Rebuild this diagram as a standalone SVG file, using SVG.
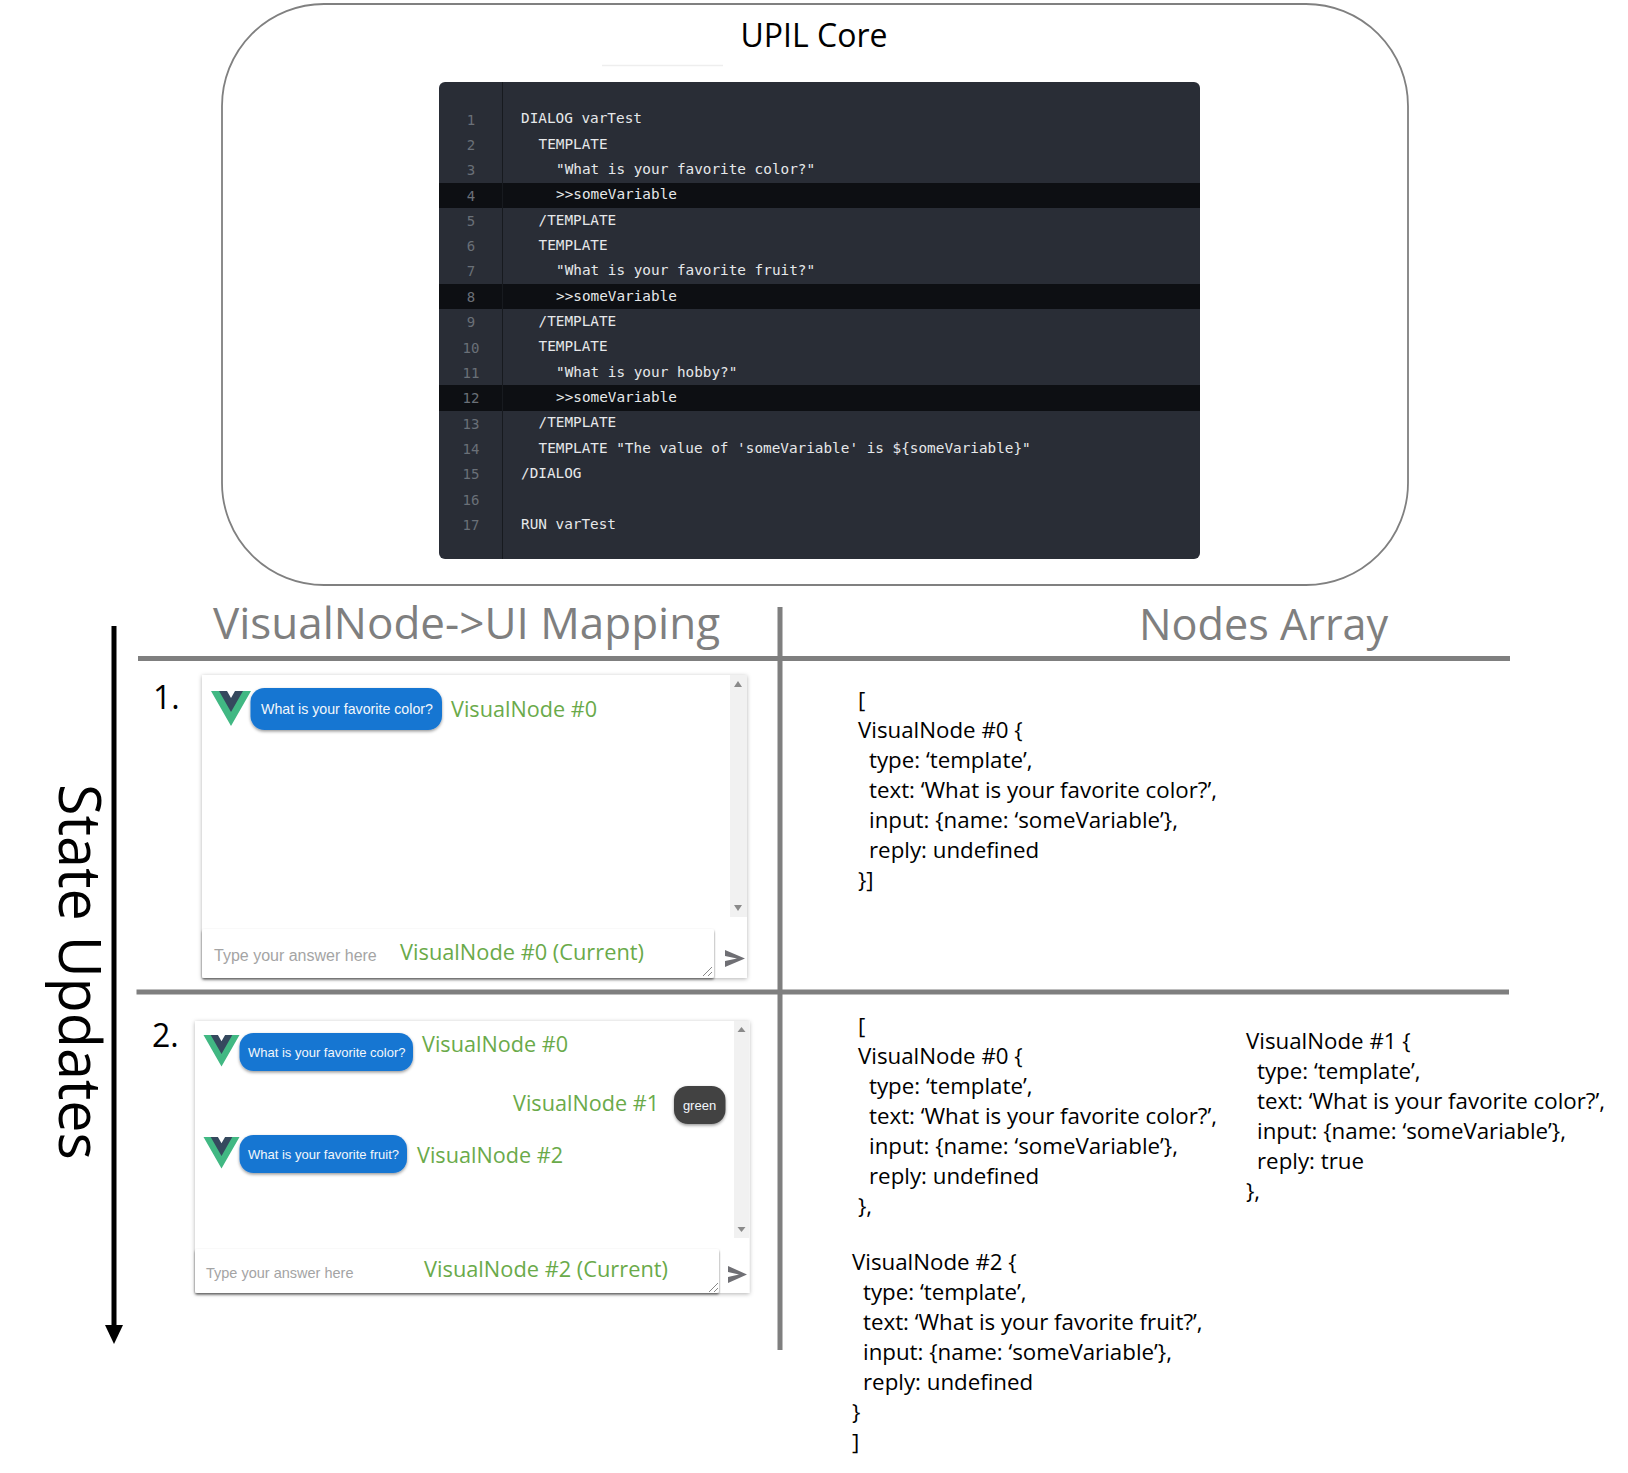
<svg xmlns="http://www.w3.org/2000/svg" width="1628" height="1473" viewBox="0 0 1628 1473">
<style>
text{font-family:"Open Sans","Noto Sans","DejaVu Sans",sans-serif}
.c{font-family:"DejaVu Sans Mono","Liberation Mono",monospace;font-size:14.35px;fill:#e6e8ea}
.n{font-family:"DejaVu Sans Mono","Liberation Mono",monospace;font-size:14px;fill:#6a7078;text-anchor:middle}
.hl{fill:#0d0f13}
.h{font-size:44px;fill:#7f7f7f}
.b{font-size:22.3px;fill:#000}
.g{font-size:22px;fill:#6aaa4a}
.ui{font-family:"Liberation Sans",Arial,sans-serif}
.bt{font-size:14.2px;fill:#f2f6fb}
.bs{font-size:13px;fill:#f2f6fb}
.ph{font-size:16px;fill:#a4a4a4}
.rule{stroke:#7f7f7f;stroke-width:5;fill:none}
.card{fill:#fff;filter:url(#s)}
.in{fill:#fff;filter:url(#s2)}
.bub{fill:#1976d2;filter:url(#s3)}
.sb{fill:#f1f1f1}
.ar{fill:#8a8a8a}
.send{fill:#6f6f74}
.gr{stroke:#888;stroke-width:1;fill:none}
</style>
<defs>
<filter id="s" x="-5%" y="-5%" width="110%" height="110%"><feDropShadow dx="0" dy="1" stdDeviation="2" flood-color="#000" flood-opacity=".3"/></filter>
<filter id="s2" x="-5%" y="-10%" width="110%" height="125%"><feDropShadow dx="0" dy="1.500" stdDeviation="1.200" flood-color="#000" flood-opacity=".55"/></filter>
<filter id="s3" x="-5%" y="-10%" width="110%" height="130%"><feDropShadow dx="0" dy="1.500" stdDeviation="1.500" flood-color="#000" flood-opacity=".4"/></filter>
<g id="vue"><path d="M0 0H9L20 19 31 0H40L20 35Z" fill="#41b883"/><path d="M8 0H16L20 7 24 0H32L20 21Z" fill="#35495e"/></g>
</defs>
<rect width="1628" height="1473" fill="#fff"/>
<g id="core">
<rect x="222" y="4" width="1186" height="581" rx="102" ry="102" fill="#fff" stroke="#808080" stroke-width="1.800"/>
<text x="814" y="47" font-size="32" text-anchor="middle" fill="#000">UPIL Core</text>
<line x1="602" y1="65.500" x2="723" y2="65.500" stroke="#eee" stroke-width="1.500"/>
</g>
<g id="code">
<rect x="439" y="82" width="761" height="477" rx="6" fill="#292d36"/>
<rect class="hl" x="439" y="183" width="761" height="25"/>
<rect class="hl" x="439" y="284" width="761" height="25"/>
<rect class="hl" x="439" y="385" width="761" height="26"/>
<line x1="502.500" y1="82" x2="502.500" y2="559" stroke="#171a1f" stroke-width="1"/>
<text class="n" x="471" y="124.500">1</text><text class="n" x="471" y="150">2</text><text class="n" x="471" y="175">3</text><text class="n" x="471" y="200.500">4</text><text class="n" x="471" y="226">5</text><text class="n" x="471" y="251">6</text><text class="n" x="471" y="276">7</text><text class="n" x="471" y="302">8</text><text class="n" x="471" y="327">9</text><text class="n" x="471" y="352.500">10</text><text class="n" x="471" y="378">11</text><text class="n" x="471" y="403">12</text><text class="n" x="471" y="428.500">13</text><text class="n" x="471" y="454">14</text><text class="n" x="471" y="479">15</text><text class="n" x="471" y="504.500">16</text><text class="n" x="471" y="530">17</text>
<text class="c" x="521" y="123">DIALOG varTest</text>
<text class="c" x="538.500" y="149">TEMPLATE</text>
<text class="c" x="556" y="174">"What is your favorite color?"</text>
<text class="c" x="556" y="199">&gt;&gt;someVariable</text>
<text class="c" x="538.500" y="225">/TEMPLATE</text>
<text class="c" x="538.500" y="250">TEMPLATE</text>
<text class="c" x="556" y="275">"What is your favorite fruit?"</text>
<text class="c" x="556" y="301">&gt;&gt;someVariable</text>
<text class="c" x="538.500" y="326">/TEMPLATE</text>
<text class="c" x="538.500" y="351">TEMPLATE</text>
<text class="c" x="556" y="377">"What is your hobby?"</text>
<text class="c" x="556" y="402">&gt;&gt;someVariable</text>
<text class="c" x="538.500" y="427">/TEMPLATE</text>
<text class="c" x="538.500" y="453">TEMPLATE "The value of 'someVariable' is ${someVariable}"</text>
<text class="c" x="521" y="478">/DIALOG</text>
<text class="c" x="521" y="529">RUN varTest</text>
</g>
<g id="headers">
<text class="h" x="213" y="639">VisualNode-&gt;UI Mapping</text>
<text class="h" x="1139" y="640" style="font-size:43.200px">Nodes Array</text>
</g>
<g id="connectors">
<line class="rule" x1="780" y1="607" x2="780" y2="1350"/>
<line class="rule" x1="138" y1="658.500" x2="1510" y2="658.500"/>
<line class="rule" x1="136.500" y1="992" x2="1509" y2="992"/>
<line x1="114" y1="626" x2="114" y2="1328" stroke="#000" stroke-width="5"/>
<path d="M105 1325H123L114 1344Z" fill="#000"/>
</g>
<text id="state-updates" transform="translate(59,784) rotate(90)" font-size="58" fill="#000" textLength="376" lengthAdjust="spacingAndGlyphs">State Updates</text>
<g id="state1">
<text x="153" y="709" font-size="32" fill="#000">1.</text>
<rect class="card" x="202" y="675" width="545" height="303"/>
<rect class="sb" x="730" y="675" width="17" height="242"/>
<path class="ar" d="M738 681l4 6h-8z"/><path class="ar" d="M738 911l4-6h-8z"/>
<rect class="in" x="202" y="929" width="512" height="49" rx="2"/>
<path class="gr" d="M703 976l9-9M708 976l4-4"/>
<use href="#vue" x="211" y="691"/>
<rect class="bub" x="250.500" y="688" width="191.500" height="42" rx="14"/>
<text class="ui bt" x="261" y="714">What is your favorite color?</text>
<text class="g" x="451" y="717" textLength="146" lengthAdjust="spacingAndGlyphs">VisualNode #0</text>
<text class="ui ph" x="214" y="961">Type your answer here</text>
<text class="g" x="400" y="960" textLength="244" lengthAdjust="spacingAndGlyphs">VisualNode #0 (Current)</text>
<path class="send" d="M725 950l20 8.500-20 8.500 0-6 12-2.500-12-2.500z"/>
</g>
<g id="state2">
<text x="152" y="1047" font-size="32" fill="#000">2.</text>
<rect class="card" x="195" y="1021" width="554.500" height="272"/>
<rect class="sb" x="734" y="1021" width="15.500" height="217"/>
<path class="ar" d="M741.500 1027l4 5h-8z"/><path class="ar" d="M741.500 1232l4-5h-8z"/>
<rect class="in" x="195" y="1249" width="524" height="44" rx="2"/>
<path class="gr" d="M709 1292l9-9M714 1292l4-4"/>
<use href="#vue" transform="translate(203.500,1035) scale(.9)"/>
<rect class="bub" x="239.500" y="1033" width="173.500" height="38" rx="14"/>
<text class="ui bs" x="248" y="1057">What is your favorite color?</text>
<text class="g" x="422" y="1052" textLength="146" lengthAdjust="spacingAndGlyphs">VisualNode #0</text>
<text class="g" x="513" y="1111" textLength="146" lengthAdjust="spacingAndGlyphs">VisualNode #1</text>
<rect x="674" y="1086" width="51.500" height="38" rx="14" fill="#424242" filter="url(#s3)"/>
<text class="ui bs" x="699.500" y="1110" text-anchor="middle">green</text>
<use href="#vue" transform="translate(203.500,1137) scale(.9)"/>
<rect class="bub" x="239.500" y="1135" width="167.500" height="38" rx="14"/>
<text class="ui bs" x="248" y="1159">What is your favorite fruit?</text>
<text class="g" x="417" y="1163" textLength="146" lengthAdjust="spacingAndGlyphs">VisualNode #2</text>
<text class="ui ph" x="206" y="1278" style="font-size:14.500px">Type your answer here</text>
<text class="g" x="424" y="1277" textLength="244" lengthAdjust="spacingAndGlyphs">VisualNode #2 (Current)</text>
<path class="send" d="M728 1266l19 8.500-19 8.500 0-6 11-2.500-11-2.500z"/>
</g>
<g id="array1">
<text class="b" x="858" y="708">[</text>
<text class="b" x="858" y="738">VisualNode #0 {</text>
<text class="b" x="869" y="768">type: ‘template’,</text>
<text class="b" x="869" y="798">text: ‘What is your favorite color?’,</text>
<text class="b" x="869" y="828">input: {name: ‘someVariable’},</text>
<text class="b" x="869" y="858">reply: undefined</text>
<text class="b" x="858" y="888">}]</text>
</g>
<g id="array2">
<text class="b" x="858" y="1034">[</text>
<text class="b" x="858" y="1064">VisualNode #0 {</text>
<text class="b" x="869" y="1094">type: ‘template’,</text>
<text class="b" x="869" y="1124">text: ‘What is your favorite color?’,</text>
<text class="b" x="869" y="1154">input: {name: ‘someVariable’},</text>
<text class="b" x="869" y="1184">reply: undefined</text>
<text class="b" x="858" y="1214">},</text>
<text class="b" x="852" y="1270">VisualNode #2 {</text>
<text class="b" x="863" y="1300">type: ‘template’,</text>
<text class="b" x="863" y="1330">text: ‘What is your favorite fruit?’,</text>
<text class="b" x="863" y="1360">input: {name: ‘someVariable’},</text>
<text class="b" x="863" y="1390">reply: undefined</text>
<text class="b" x="852" y="1420">}</text>
<text class="b" x="852" y="1450">]</text>
<text class="b" x="1246" y="1049">VisualNode #1 {</text>
<text class="b" x="1257" y="1079">type: ‘template’,</text>
<text class="b" x="1257" y="1109">text: ‘What is your favorite color?’,</text>
<text class="b" x="1257" y="1139">input: {name: ‘someVariable’},</text>
<text class="b" x="1257" y="1169">reply: true</text>
<text class="b" x="1246" y="1199">},</text>
</g>
</svg>
